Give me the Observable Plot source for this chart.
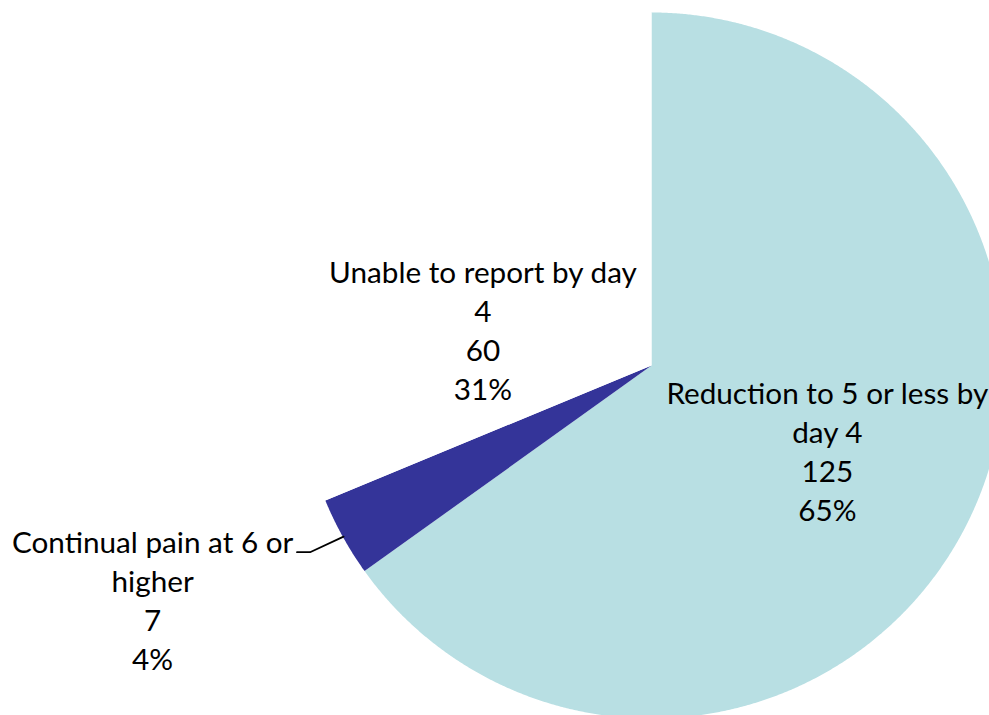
<!DOCTYPE html>
<html>
<head>
<meta charset="utf-8">
<script src="https://cdn.jsdelivr.net/npm/d3@7"></script>
<script src="https://cdn.jsdelivr.net/npm/@observablehq/plot@0.6"></script>
<style>
  html, body { margin: 0; padding: 0; background: #fff; overflow: hidden; }
  #chart svg { display: block; overflow: hidden; }
</style>
</head>
<body>
<div id="chart"></div>
<script>
// ---- Data ----
const categories = ["Reduction to 5 or less by day 4", "Continual pain at 6 or higher", "Unable to report by day 4"];
const labelNames = [["Reduction to 5 or less by", "day 4"], ["Continual pain at 6 or", "higher"], ["Unable to report by day", "4"]];
const counts = [125, 7, 60];
const percents = ["65%", "4%", "31%"];

// ---- Styling / layout ----
const colors = ["#b8dfe3", "#343499", "#ffffff"];
const W = 989, H = 715;
const cx = 651, cy = 365, R = 353; // pixel geometry of the pie
// label placement: [radius factor, angle offset (deg) from slice mid-angle]
const labelPlace = [[0.557, -0.6], [1.564, 3.7], [0.487, -22.4]];
const fontSize = 29.7;

const arcs = d3.pie().sort(null).value(d => d)(counts);

// slice polygons in data units (radius = 1)
const slicePts = [];
arcs.forEach((a, i) => {
  slicePts.push({k: i, x: 0, y: 0});
  const n = Math.max(2, Math.ceil((a.endAngle - a.startAngle) / (Math.PI / 720)));
  for (let j = 0; j <= n; j++) {
    const t = a.startAngle + (a.endAngle - a.startAngle) * j / n;
    slicePts.push({k: i, x: Math.sin(t), y: Math.cos(t)});
  }
  slicePts.push({k: i, x: 0, y: 0});
});

const labels = arcs.map((a, i) => {
  const mid = (a.startAngle + a.endAngle) / 2 + labelPlace[i][1] * Math.PI / 180;
  const r = labelPlace[i][0];
  return {
    x: r * Math.sin(mid), y: r * Math.cos(mid),
    text: [...labelNames[i], String(counts[i]), percents[i]].join("\n"),
    mid: (a.startAngle + a.endAngle) / 2
  };
});

// leader line for the outside label (Continual pain)
const li = 1;
const lab = labels[li];
const leader = [
  {x: lab.x + 0.409, y: lab.y + 0.141},
  {x: lab.x + 0.446, y: lab.y + 0.141},
  {x: 0.998 * Math.sin(lab.mid), y: 0.998 * Math.cos(lab.mid)}
];

const marks = arcs.map((a, i) =>
  Plot.line(slicePts.filter(d => d.k === i), {x: "x", y: "y", fill: colors[i], stroke: "none", curve: "linear"})
);
marks.push(Plot.line(leader, {x: "x", y: "y", stroke: "#000", strokeWidth: 1.8}));
marks.push(Plot.text(labels, {
  x: "x", y: "y", text: "text", dy: -3,
  fontSize: fontSize, lineHeight: 39 / fontSize,
  fill: "#000", textAnchor: "middle", lineAnchor: "middle"
}));

const chart = Plot.plot({
  width: W, height: H,
  marginTop: 0, marginRight: 0, marginBottom: 0, marginLeft: 0,
  style: {fontFamily: "Lato, 'Open Sans', sans-serif", background: "#fff"},
  x: {domain: [-cx / R, (W - cx) / R], range: [0, W], axis: null},
  y: {domain: [-(H - cy) / R, cy / R], range: [H, 0], axis: null},
  marks
});
document.getElementById("chart").append(chart);
</script>
</body>
</html>
